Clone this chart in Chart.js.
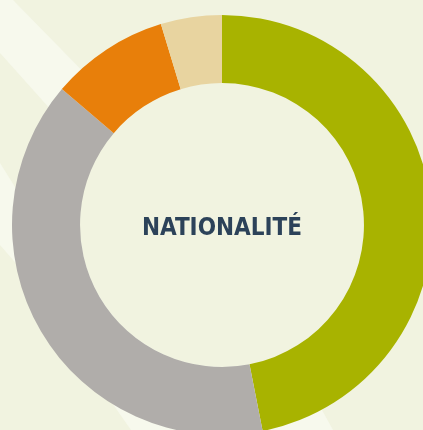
<!DOCTYPE html>
<html lang="fr">
<head>
<meta charset="utf-8">
<title>Nationalité</title>
<script src="https://cdn.jsdelivr.net/npm/chart.js@4/dist/chart.umd.min.js"></script>
<style>
    html, body { margin: 0; padding: 0; background: #f1f3e0; overflow: hidden; }
    #wrap { position: relative; width: 423px; height: 430px; }
</style>
</head>
<body>
<div id="wrap"><canvas id="nationaliteChart"></canvas></div>
<script>
// Parts (en %), dans le sens horaire depuis midi
const categories = ['Catégorie 1', 'Catégorie 2', 'Catégorie 3', 'Catégorie 4'];
const parts = [46.9, 39.3, 9.1, 4.7];
const couleurs = ['#a8b300', '#b0adaa', '#e87f0a', '#e8d4a0'];
const titre = 'NATIONALITÉ';

const fond = '#f1f3e0';
const bande = '#f7f9ed';

// Fond avec les bandes diagonales claires + disque central
const fondDecor = {
    id: 'fondDecor',
    beforeDraw(chart) {
        const { ctx, width, height } = chart;
        ctx.save();
        ctx.fillStyle = fond;
        ctx.fillRect(0, 0, width, height);

        ctx.fillStyle = bande;
        ctx.beginPath();
        ctx.moveTo(0, 0);
        ctx.lineTo(13, 0);
        ctx.lineTo(150, 140);
        ctx.lineTo(60, 120);
        ctx.lineTo(0, 53);
        ctx.closePath();
        ctx.fill();

        ctx.beginPath();
        ctx.moveTo(0, 163);
        ctx.lineTo(30, 211);
        ctx.lineTo(300, 370);
        ctx.lineTo(344, 450);
        ctx.lineTo(145, 450);
        ctx.lineTo(110, 400);
        ctx.lineTo(20, 268);
        ctx.lineTo(0, 245);
        ctx.closePath();
        ctx.fill();

        // on recouvre le trou du donut avec la couleur du fond
        const arc = chart.getDatasetMeta(0).data[0];
        if (arc) {
            ctx.fillStyle = fond;
            ctx.beginPath();
            ctx.arc(arc.x, arc.y, arc.innerRadius, 0, Math.PI * 2);
            ctx.fill();
        }
        ctx.restore();
    }
};

// Titre au centre
const titreCentre = {
    id: 'titreCentre',
    afterDatasetsDraw(chart) {
        const { ctx } = chart;
        const arc = chart.getDatasetMeta(0).data[0];
        ctx.save();
        ctx.font = 'bold 24px "DejaVu Sans Condensed", "DejaVu Sans", sans-serif';
        ctx.fillStyle = '#2c4259';
        ctx.textAlign = 'center';
        ctx.textBaseline = 'alphabetic';
        ctx.fillText(titre, arc.x, arc.y + 10);
        ctx.restore();
    }
};

new Chart(document.getElementById('nationaliteChart'), {
    type: 'doughnut',
    data: {
        labels: categories,
        datasets: [{
            data: parts,
            backgroundColor: couleurs,
            borderWidth: 0,
            clip: false,
        }],
    },
    options: {
        responsive: true,
        maintainAspectRatio: false,
        animation: false,
        radius: 210,
        cutout: '67.6%',
        layout: {
            padding: { left: 21, right: 0, top: 20, bottom: 0 },
        },
        plugins: {
            legend: { display: false },
            tooltip: { enabled: false },
        },
    },
    plugins: [fondDecor, titreCentre]
});
</script>
</body>
</html>
